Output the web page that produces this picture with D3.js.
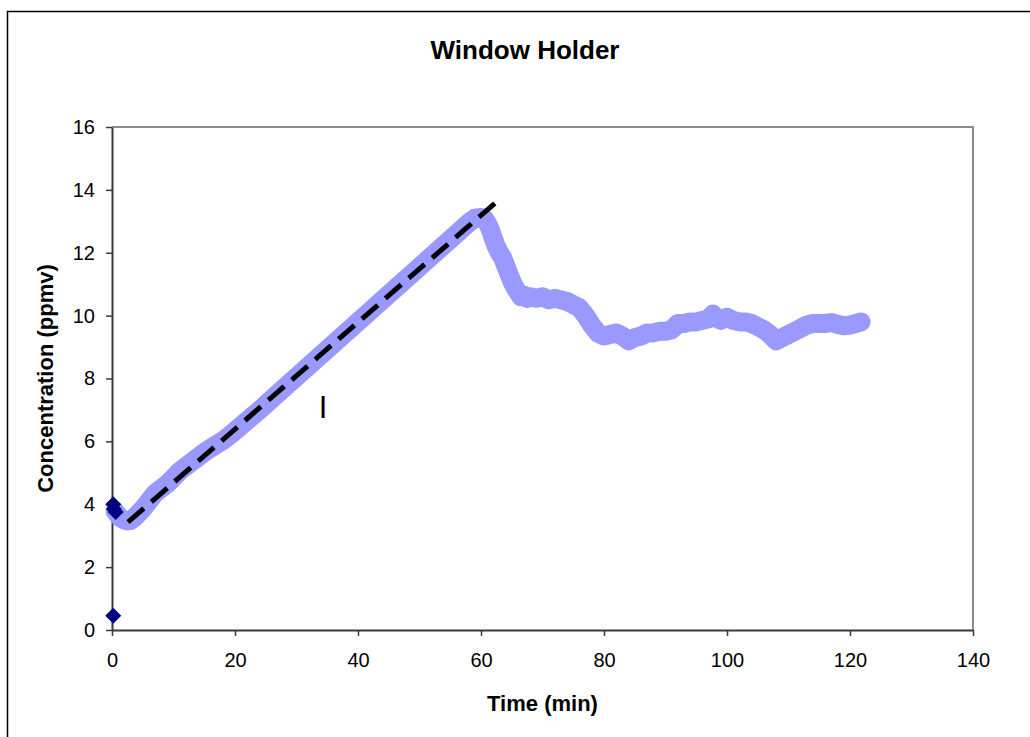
<!DOCTYPE html>
<html>
<head>
<meta charset="utf-8">
<script src="https://cdn.jsdelivr.net/npm/d3@7"></script>
<style>
  body { margin: 0; background: #fff; }
  text { font-family: "Liberation Sans", Arial, sans-serif; }
</style>
</head>
<body>
<script>
'use strict';

// measured concentration (light blue band)
let timeMin = [0.5, 1, 1.5, 2, 2.5, 3, 3.5, 4, 5, 6, 7, 8, 9, 10, 11, 12, 13, 14, 15, 16, 17, 18, 19, 20,
  22, 24, 26, 28, 30, 32, 34, 36, 38, 40, 42, 44, 46, 48, 50, 52, 54, 56, 58, 59, 60, 60.5,
  61, 61.5, 62, 62.5, 63, 63.5, 64, 64.5, 65, 65.5, 66, 66.5, 67, 67.5, 68, 69, 70, 71, 72, 73, 74,
  75, 76, 77, 78, 79, 80, 81, 82, 83, 84, 85, 86, 87, 88, 89, 90, 91, 92, 93, 94, 95, 96, 97, 97.7,
  98.5, 99, 100, 101, 102, 103, 104, 105, 106, 107, 108, 109, 110, 111, 112, 113, 114, 115, 116,
  117, 118, 119, 120, 121, 121.8];
let concPpmv = [3.78, 3.65, 3.55, 3.5, 3.47, 3.48, 3.55, 3.65, 3.85, 4.1, 4.35, 4.5, 4.65, 4.85, 5.05, 5.2, 5.35, 5.5, 5.65, 5.78, 5.9, 6.02, 6.17, 6.33,
  6.67, 7.0, 7.35, 7.7, 8.05, 8.4, 8.75, 9.1, 9.45, 9.8, 10.15, 10.5, 10.85, 11.2, 11.55, 11.9, 12.25, 12.6, 12.95, 13.1, 13.12, 13.1,
  12.95, 12.75, 12.45, 12.2, 12.0, 11.85, 11.6, 11.35, 11.1, 10.9, 10.75, 10.6, 10.65, 10.55, 10.6, 10.55, 10.6, 10.5, 10.55, 10.5, 10.45,
  10.35, 10.25, 10.0, 9.7, 9.45, 9.35, 9.4, 9.45, 9.35, 9.2, 9.3, 9.35, 9.45, 9.45, 9.5, 9.5, 9.55, 9.75, 9.75, 9.8, 9.8, 9.85, 9.9, 10.05,
  9.9, 9.85, 9.95, 9.85, 9.8, 9.8, 9.75, 9.65, 9.55, 9.4, 9.2, 9.3, 9.4, 9.5, 9.6, 9.7, 9.75, 9.75, 9.75,
  9.78, 9.72, 9.68, 9.7, 9.75, 9.8];

// initial readings (dark diamonds)
let startTime = [0.2, 0.3, 0.6, 0.2];
let startConc = [4.0, 3.85, 3.75, 0.45];

// linear fit of the rising part (dashed)
let fitTime = [2.6, 62.3];
let fitConc = [3.43, 13.58];

let xTicks = [0, 20, 40, 60, 80, 100, 120, 140];
let yTicks = [0, 2, 4, 6, 8, 10, 12, 14, 16];

let w = 1030, h = 737;
let margin = {left: 112, right: 57, top: 127, bottom: 107};

let svg = d3.select('body')
    .append('svg')
    .attr('width', w)
    .attr('height', h);

// outer chart frame
svg.append('rect')
    .attr('x', 7.5).attr('y', 11.5)
    .attr('width', 1040).attr('height', 760)
    .attr('fill', 'none')
    .attr('stroke', '#000')
    .attr('stroke-width', 1.5);

let x = d3.scaleLinear().domain([0, 140]).range([margin.left, w - margin.right]);
let y = d3.scaleLinear().domain([0, 16]).range([h - margin.bottom, margin.top]);

// plot area top/right border
svg.append('path')
    .attr('d', `M${x(0)},${y(16)}H${x(140)}V${y(0)}`)
    .attr('fill', 'none')
    .attr('stroke', '#8c8c8c')
    .attr('stroke-width', 2);

let xAxis = svg.append('g')
    .attr('transform', `translate(0,${y(0)})`)
    .call(d3.axisBottom(x).tickValues(xTicks).tickSize(6).tickPadding(17).tickSizeOuter(0));

let yAxis = svg.append('g')
    .attr('transform', `translate(${x(0)},0)`)
    .call(d3.axisLeft(y).tickValues(yTicks).tickSize(6).tickPadding(11).tickSizeOuter(0));

[xAxis, yAxis].forEach(g => {
  g.select('.domain').attr('stroke', '#3a3a3a').attr('stroke-width', 2);
  g.selectAll('.tick line').attr('stroke', '#3a3a3a').attr('stroke-width', 1.5);
  g.selectAll('.tick text')
      .attr('font-family', '"Liberation Sans", Arial, sans-serif')
      .attr('font-size', '20px')
      .attr('fill', '#000');
});

// blue band
let line = d3.line()
    .x((d, i) => x(timeMin[i]))
    .y(d => y(d));

svg.append('path')
    .datum(concPpmv)
    .attr('d', line)
    .attr('fill', 'none')
    .attr('stroke', '#9999ff')
    .attr('stroke-width', 19)
    .attr('stroke-linejoin', 'round')
    .attr('stroke-linecap', 'round');

// dashed fit line
svg.append('path')
    .datum(fitConc)
    .attr('d', d3.line().x((d, i) => x(fitTime[i])).y(d => y(d)))
    .attr('fill', 'none')
    .attr('stroke', '#000')
    .attr('stroke-width', 5)
    .attr('stroke-dasharray', '21,10');

// diamonds
let diamond = (cx, cy, r) => `M${cx},${cy - r}L${cx + r},${cy}L${cx},${cy + r}L${cx - r},${cy}Z`;
svg.selectAll('path.pt')
    .data(startConc)
    .enter()
    .append('path')
    .attr('class', 'pt')
    .attr('d', (d, i) => diamond(x(startTime[i]), y(d), 8))
    .attr('fill', '#000080');

svg.append('text')
    .text('I')
    .attr('x', 323)
    .attr('y', 418)
    .attr('font-size', '31px')
    .attr('text-anchor', 'middle');

// titles
svg.append('text')
    .text('Window Holder')
    .attr('x', 525)
    .attr('y', 59)
    .attr('font-size', '26px')
    .attr('font-weight', 'bold')
    .attr('text-anchor', 'middle');

svg.append('text')
    .text('Time (min)')
    .attr('x', (x(0) + x(140)) / 2)
    .attr('y', 711)
    .attr('font-size', '22px')
    .attr('font-weight', 'bold')
    .attr('text-anchor', 'middle');

svg.append('text')
    .text('Concentration (ppmv)')
    .attr('transform', `translate(53,${(y(0) + y(16)) / 2}) rotate(-90)`)
    .attr('font-size', '22px')
    .attr('font-weight', 'bold')
    .attr('text-anchor', 'middle');
</script>
</body>
</html>
